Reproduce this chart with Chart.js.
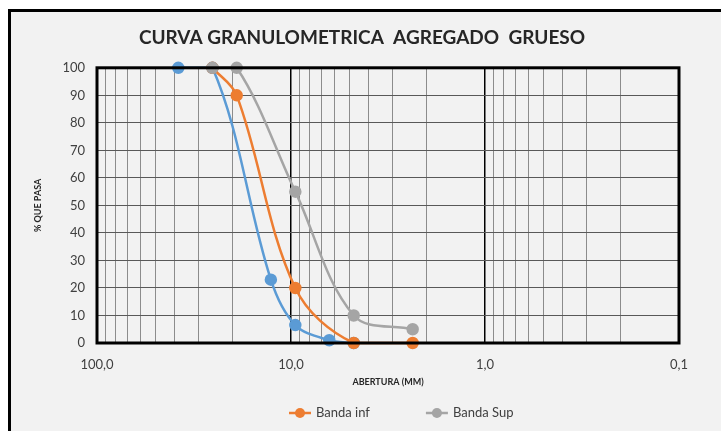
<!DOCTYPE html>
<html>
<head>
<meta charset="utf-8">
<script src="https://cdn.jsdelivr.net/npm/chart.js@4.4.1/dist/chart.umd.min.js"></script>
<style>
    html, body { margin: 0; padding: 0; background: #ffffff; overflow: hidden; }
    #frame {
        position: absolute; left: 8px; top: 9px; width: 800px; height: 500px;
        border: 3px solid #000000; background: #f2f2f2;
    }
    #chart { position: absolute; left: 0; top: 0; }
</style>
</head>
<body>
<div id="frame"></div>
<canvas id="chart" width="721" height="431"></canvas>
<script>
// sieve openings (mm) and % passing
const muestraSizes = [38.1, 25.4, 12.7, 9.5, 6.35, 4.75];
const muestraValues = [100, 100, 23, 6.5, 1, 0];
const bandaSizes = [25.4, 19.05, 9.5, 4.75, 2.36];
const bandaInfValues = [100, 90, 20, 0, 0];
const bandaSupValues = [100, 100, 55, 10, 5];

const xMajorTicks = [100, 10, 1, 0.1];
const xTickLabels = ["100,0", "10,0", "1,0", "0,1"];
const yTicks = [0, 10, 20, 30, 40, 50, 60, 70, 80, 90, 100];

const blue = "#5b9bd5";
const orange = "#ed7d31";
const gray = "#a5a5a5";
const textColor = "#404040";
const fontFamily = "Lato, 'Open Sans', sans-serif";

const toPoints = (xs, ys) => xs.map((x, i) => ({ x: x, y: ys[i] }));

// minor grid ticks 2..9 in each decade
const xAllTicks = [];
xMajorTicks.slice(1).forEach(d => {
    for (let m = 1; m < 10; m++) xAllTicks.push(+(d * m).toFixed(2));
});
xAllTicks.push(100);

const plotBorder = {
    id: "plotBorder",
    afterDraw(chart) {
        const a = chart.chartArea, ctx = chart.ctx;
        ctx.save();
        ctx.strokeStyle = "#000000";
        ctx.lineWidth = 3;
        ctx.strokeRect(a.left, a.top, a.right - a.left, a.bottom - a.top);
        ctx.restore();
    }
};

// excel style legend: line with marker, then label
const lineLegend = {
    id: "lineLegend",
    afterDraw(chart, args, opts) {
        const ctx = chart.ctx;
        let x = opts.x;
        const y = opts.y;
        ctx.save();
        ctx.font = "13px " + fontFamily;
        ctx.textBaseline = "middle";
        chart.data.datasets.filter(ds => ds.label).forEach(ds => {
            ctx.strokeStyle = ds.borderColor;
            ctx.fillStyle = ds.borderColor;
            ctx.lineWidth = 2.5;
            ctx.beginPath(); ctx.moveTo(x, y); ctx.lineTo(x + 22, y); ctx.stroke();
            ctx.beginPath(); ctx.arc(x + 11, y, 5, 0, Math.PI * 2); ctx.fill();
            ctx.fillStyle = textColor;
            ctx.fillText(ds.label, x + 27, y);
            x += 27 + ctx.measureText(ds.label).width + opts.gap;
        });
        ctx.restore();
    }
};

function makeSet(label, data, color, order) {
    return {
        label: label,
        data: data,
        borderColor: color,
        backgroundColor: color,
        pointBackgroundColor: color,
        pointBorderColor: color,
        pointRadius: 5,
        pointHoverRadius: 5,
        borderWidth: 2.5,
        tension: 0.35,
        showLine: true,
        order: order,
        clip: false
    };
}

const datasets = [
    makeSet("", toPoints(muestraSizes, muestraValues), blue, 3),
    makeSet("Banda inf", toPoints(bandaSizes, bandaInfValues), orange, 2),
    makeSet("Banda Sup", toPoints(bandaSizes, bandaSupValues), gray, 1)
];

new Chart(document.getElementById("chart"), {
    type: "scatter",
    data: { datasets: datasets },
    plugins: [plotBorder, lineLegend],
    options: {
        responsive: false,
        animation: false,
        layout: { padding: { left: 45, right: 42, top: 0, bottom: 44 } },
        plugins: {
            title: {
                display: true,
                text: "CURVA GRANULOMETRICA  AGREGADO  GRUESO",
                color: "#262626",
                font: { family: fontFamily, size: 19, weight: "bold" },
                padding: { top: 26, bottom: 19 }
            },
            legend: { display: false },
            lineLegend: { x: 289, y: 413, gap: 56 },
            tooltip: { enabled: false }
        },
        scales: {
            x: {
                type: "logarithmic",
                reverse: true,
                min: 0.1,
                max: 100,
                afterBuildTicks: s => { s.ticks = xAllTicks.map(v => ({ value: v })); },
                afterFit: s => { s.height = 44; },
                grid: {
                    color: c => xMajorTicks.includes(c.tick && c.tick.value) ? "#000000" : "#8c8c8c",
                    lineWidth: c => xMajorTicks.includes(c.tick && c.tick.value) ? 1.5 : 1,
                    drawTicks: false
                },
                border: { display: false },
                ticks: {
                    autoSkip: false,
                    maxRotation: 0,
                    padding: 14,
                    color: textColor,
                    font: { family: fontFamily, size: 13 },
                    callback: v => {
                        const i = xMajorTicks.indexOf(v);
                        return i >= 0 ? xTickLabels[i] : "";
                    }
                },
                title: {
                    display: true,
                    text: "ABERTURA (MM)",
                    color: "#262626",
                    font: { family: fontFamily, size: 9, weight: "bold" },
                    padding: { top: 4, bottom: 0 }
                }
            },
            y: {
                min: 0,
                max: 100,
                afterBuildTicks: s => { s.ticks = yTicks.map(v => ({ value: v })); },
                afterFit: s => { s.width = 52; },
                grid: { color: "#595959", lineWidth: 1, drawTicks: false },
                border: { display: false },
                ticks: {
                    padding: 12,
                    color: textColor,
                    font: { family: fontFamily, size: 13 }
                },
                title: {
                    display: true,
                    text: "% QUE PASA",
                    color: "#262626",
                    font: { family: fontFamily, size: 9, weight: "bold" },
                    padding: { top: -12, bottom: 0 }
                }
            }
        }
    }
});
</script>
</body>
</html>
